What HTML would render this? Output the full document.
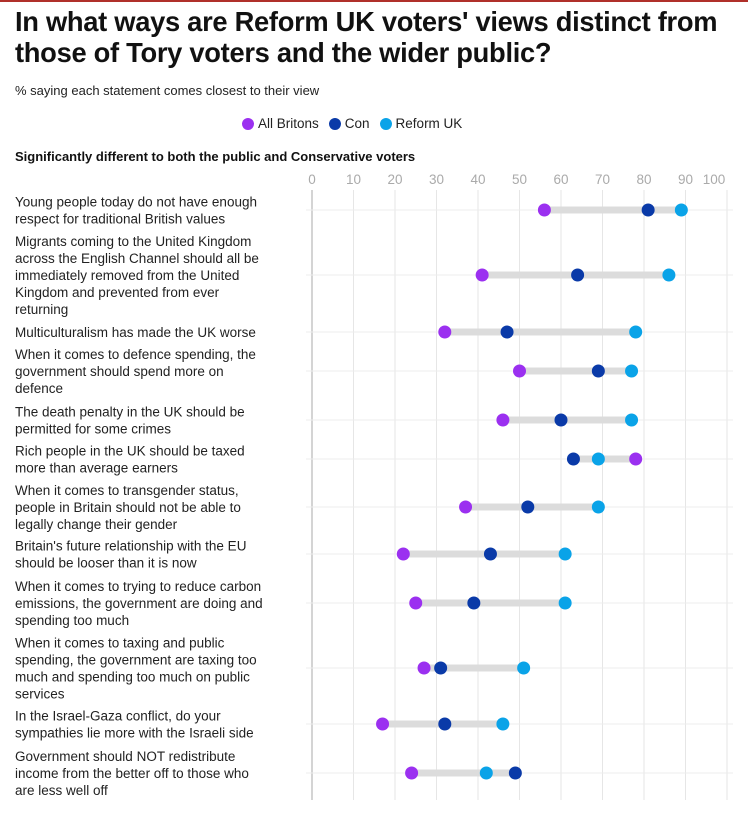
<!DOCTYPE html>
<html><head><meta charset="utf-8"><style>
body{margin:0;width:748px;height:817px;background:#fff;font-family:"Liberation Sans",sans-serif;position:relative;overflow:hidden}
#topbar{position:absolute;left:0;top:0;width:748px;height:2px;background:#b0302a}
h1{position:absolute;left:15px;top:6px;margin:0;font-size:28px;line-height:31px;font-weight:bold;color:#111;letter-spacing:-0.3px;white-space:nowrap;transform:scaleX(0.975);transform-origin:0 0}
#sub{position:absolute;left:15px;top:83px;font-size:13px;color:#222}
#legend{position:absolute;top:116px;left:242px;font-size:13.5px;color:#222;display:flex;gap:10px}
.li{display:flex;align-items:center;gap:4px}
.dot{width:12px;height:12px;border-radius:50%;display:inline-block}
#sec{position:absolute;left:15px;top:149px;font-size:13px;font-weight:bold;color:#111}
svg{position:absolute;left:0;top:0}
</style></head><body>
<div id="topbar"></div>
<h1>In what ways are Reform UK voters' views distinct from<br>those of Tory voters and the wider public?</h1>
<div id="sub">% saying each statement comes closest to their view</div>
<div id="legend">
<span class="li"><span class="dot" style="background:#9b30f0"></span>All Britons</span>
<span class="li"><span class="dot" style="background:#0a3aa8"></span>Con</span>
<span class="li"><span class="dot" style="background:#0aa3e8"></span>Reform UK</span>
</div>
<div id="sec">Significantly different to both the public and Conservative voters</div>
<svg id="chart" width="748" height="817"></svg>
<script>
const categories=[
["Young people today do not have enough","respect for traditional British values"],
["Migrants coming to the United Kingdom","across the English Channel should all be","immediately removed from the United","Kingdom and prevented from ever","returning"],
["Multiculturalism has made the UK worse"],
["When it comes to defence spending, the","government should spend more on","defence"],
["The death penalty in the UK should be","permitted for some crimes"],
["Rich people in the UK should be taxed","more than average earners"],
["When it comes to transgender status,","people in Britain should not be able to","legally change their gender"],
["Britain's future relationship with the EU","should be looser than it is now"],
["When it comes to trying to reduce carbon","emissions, the government are doing and","spending too much"],
["When it comes to taxing and public","spending, the government are taxing too","much and spending too much on public","services"],
["In the Israel-Gaza conflict, do your","sympathies lie more with the Israeli side"],
["Government should NOT redistribute","income from the better off to those who","are less well off"]];
const allBritons=[56,41,32,50,46,78,37,22,25,27,17,24];
const con=[81,64,47,69,60,63,52,43,39,31,32,49];
const reform=[89,86,78,77,77,69,69,61,61,51,46,42];
const ticks=[0,10,20,30,40,50,60,70,80,90,100];
const rowCenters=[210,275,332,371,420,459,507,554,603,668,724,773];
const svg=document.getElementById('chart');
const NS='http://www.w3.org/2000/svg';
const x=v=>312+v*4.15;
function mk(t,a){const e=document.createElementNS(NS,t);for(const k in a)e.setAttribute(k,a[k]);svg.appendChild(e);return e;}
ticks.forEach(t=>{
 const g=mk('line',{x1:x(t),x2:x(t),y1:190,y2:800,stroke:t===0?'#aaa':'#e6e6e6','stroke-width':1});
 
 
 const lx=t===100?714:x(t);
 const l=mk('text',{x:lx,y:184,'text-anchor':'middle','font-size':13.5,fill:'#aaa','font-family':'Liberation Sans, sans-serif'});
 l.textContent=t;
 
 
});
categories.forEach((c,i)=>{
 const cy=rowCenters[i];
 const n=c.length,lh=17;
 const t0=cy-(n-1)*lh/2+5;
 c.forEach((s,j)=>{
  const tx=mk('text',{x:15,y:t0+j*lh,'font-size':13.5,fill:'#222','font-family':'Liberation Sans, sans-serif'});
  tx.textContent=s;
  
  
 });
 const rl=mk('line',{x1:306,x2:733,y1:cy,y2:cy,stroke:'#ececec','stroke-width':1});
 
 
 const vals=[allBritons[i],con[i],reform[i]];
 const mn=Math.min(...vals),mx=Math.max(...vals);
 const bar=mk('line',{x1:x(mn),x2:x(mx),y1:cy,y2:cy,stroke:'#dcdcdc','stroke-width':7});
 
 
 [['#9b30f0',allBritons[i],'all-britons'],['#0a3aa8',con[i],'con'],['#0aa3e8',reform[i],'reform']].forEach(d=>{
  const p=mk('circle',{cx:x(d[1]),cy:cy,r:6.5,fill:d[0]});
  
  
 });
});
</script>
</body></html>
